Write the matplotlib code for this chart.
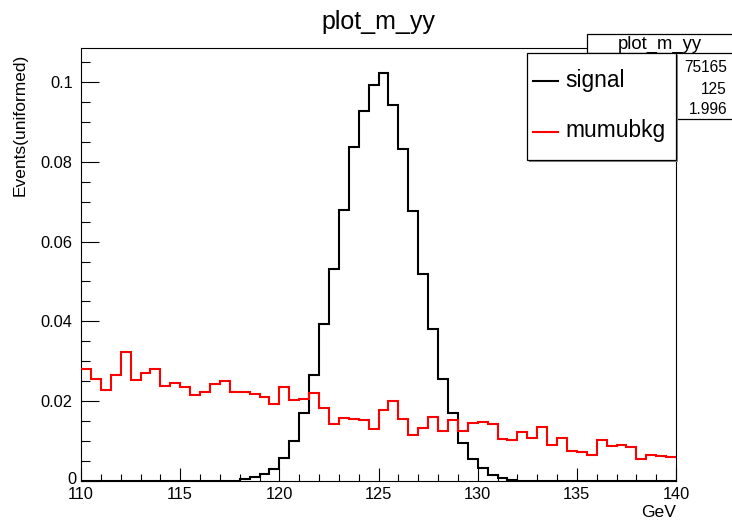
#!/usr/bin/env python3
# -*- coding: utf-8 -*-
"""plot_m_yy: signal vs mumubkg, normalised m_yy distributions (ROOT style)"""

import matplotlib
matplotlib.use('Agg')
import matplotlib.pyplot as plt
import matplotlib.transforms as mtransforms
import numpy as np
from matplotlib.patches import Rectangle
from matplotlib.lines import Line2D
from matplotlib.ticker import MultipleLocator, FuncFormatter

# 数据: 60 bins, 110-140 GeV
bin_edges = np.linspace(110, 140, 61)

signal = [
    0, 0, 0, 0, 0, 0, 0, 0, 0, 0,
    0, 0, 0, 0, 0, 0, 0.0006, 0.0009, 0.0017, 0.0030,
    0.0057, 0.0099, 0.0171, 0.0266, 0.0393, 0.0531, 0.0680, 0.0837, 0.0928, 0.0992,
    0.1022, 0.0941, 0.0831, 0.0677, 0.0518, 0.0380, 0.0255, 0.0171, 0.0094, 0.0055,
    0.0032, 0.0015, 0.0007, 0.0003, 0, 0, 0, 0, 0, 0,
    0, 0, 0, 0, 0, 0, 0, 0, 0, 0,
]

mumubkg = [
    0.0281, 0.0256, 0.0228, 0.0266, 0.0322, 0.0253, 0.0270, 0.0281, 0.0239, 0.0246,
    0.0235, 0.0216, 0.0223, 0.0242, 0.0251, 0.0222, 0.0224, 0.0217, 0.0211, 0.0194,
    0.0236, 0.0202, 0.0205, 0.0221, 0.0182, 0.0143, 0.0157, 0.0156, 0.0152, 0.0130,
    0.0178, 0.0201, 0.0155, 0.0116, 0.0134, 0.0160, 0.0126, 0.0153, 0.0125, 0.0145,
    0.0149, 0.0144, 0.0106, 0.0103, 0.0124, 0.0109, 0.0136, 0.0090, 0.0108, 0.0076,
    0.0073, 0.0064, 0.0103, 0.0088, 0.0089, 0.0085, 0.0055, 0.0066, 0.0063, 0.0059,
]

series_names = ['signal', 'mumubkg']
series_colors = ['black', '#ff0000']

stat_title = 'plot_m_yy'
stat_values = ['75165', '125', '1.996']

W, H = 732, 522
plt.rcParams['font.family'] = ['Liberation Sans', 'DejaVu Sans']


def px(x):
    return x / W


def py(y):
    return 1 - y / H


fig = plt.figure(figsize=(W / 100, H / 100), dpi=100)
ax = fig.add_axes([px(81), py(481), px(676) - px(81), py(48) - py(481)])

# 直方图
for vals, color in zip([signal, mumubkg], series_colors):
    ax.stairs(vals, bin_edges, baseline=None, color=color, linewidth=1.5, zorder=3)

ax.set_xlim(110, 140)
ax.set_ylim(0, 0.1085)

ax.xaxis.set_major_locator(MultipleLocator(5))
ax.xaxis.set_minor_locator(MultipleLocator(1))
ax.yaxis.set_major_locator(MultipleLocator(0.02))
ax.yaxis.set_minor_locator(MultipleLocator(0.005))
ax.yaxis.set_major_formatter(FuncFormatter(lambda v, p: '0' if abs(v) < 1e-9 else f'{v:g}'))

ax.tick_params(axis='both', which='both', direction='in', top=False, right=False,
               labelsize=11.8, width=0.8)
ax.tick_params(axis='x', which='major', length=9.4, pad=4)
ax.tick_params(axis='x', which='minor', length=4.7)
ax.tick_params(axis='y', which='major', length=13, pad=6)
ax.tick_params(axis='y', which='minor', length=6.5)
for s in ax.spines.values():
    s.set_linewidth(0.8)

# ROOT 风格: "0" 标签稍微右移上移
fig.canvas.draw()
for lab in ax.get_yticklabels():
    if lab.get_text() == '0':
        lab.set_transform(lab.get_transform() +
                          mtransforms.ScaledTranslation(4 / 100, 3.5 / 100, fig.dpi_scale_trans))

# 标题和轴标签
fig.text(px(378), py(29.5), 'plot_m_yy', ha='center', va='baseline', fontsize=18)
fig.text(px(20), py(54), 'Events(uniformed)', rotation=90, ha='center', va='top', fontsize=12.5)
fig.text(px(676), py(512.5), 'GeV', ha='right', va='center', fontsize=12.6)

# 统计框
fig.add_artist(Rectangle((px(587), py(119)), px(760) - px(587), py(34) - py(119),
                         transform=fig.transFigure, facecolor='white', edgecolor='black',
                         linewidth=0.9, zorder=5))
fig.add_artist(Line2D([px(587), 1], [py(53), py(53)], transform=fig.transFigure,
                      color='black', linewidth=0.9, zorder=5))
fig.text(px(660), py(44), stat_title, ha='center', va='center', fontsize=13.3, zorder=6)
for val, yy in zip(stat_values, [68, 89, 109]):
    fig.text(px(727), py(yy), val, ha='right', va='center', fontsize=11.2, zorder=6)

# 图例
fig.add_artist(Rectangle((px(529), py(162)), px(676) - px(527), py(53) - py(160),
                         transform=fig.transFigure, facecolor='#888888', edgecolor='none',
                         zorder=7))
fig.add_artist(Rectangle((px(527), py(160)), px(676) - px(527), py(53) - py(160),
                         transform=fig.transFigure, facecolor='white', edgecolor='black',
                         linewidth=0.9, zorder=8))
for name, color, yy in zip(series_names, series_colors, [80, 131]):
    fig.add_artist(Line2D([px(533), px(558)], [py(yy + 1), py(yy + 1)], transform=fig.transFigure,
                          color=color, linewidth=1.5, zorder=9))
    fig.text(px(565), py(yy), name, ha='left', va='center', fontsize=16.4, zorder=9)

plt.savefig('out.png', dpi=100, facecolor='white')
plt.close()
